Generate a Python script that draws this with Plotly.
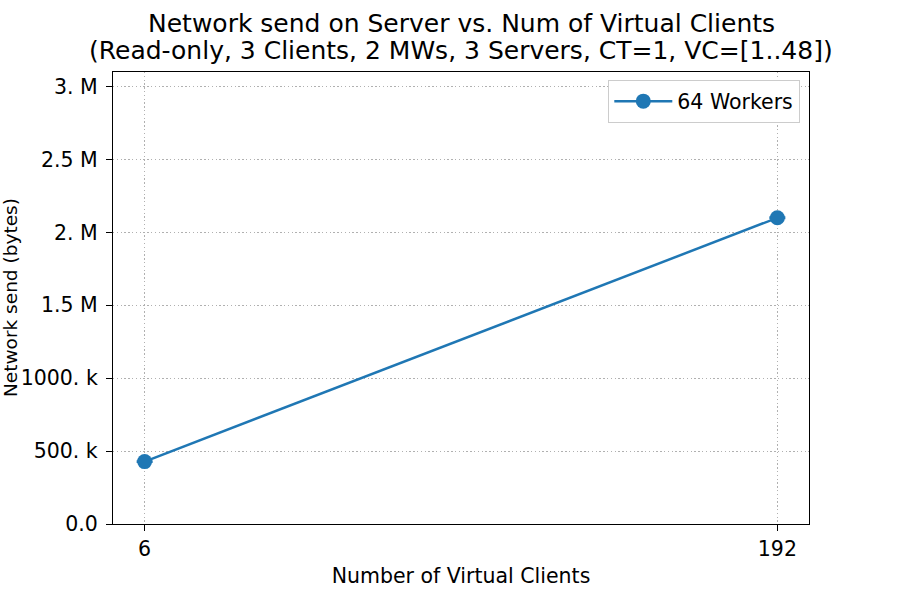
import plotly.graph_objects as go

virtual_clients = [6, 192]
network_send = [428000, 2100000]
network_send_err = [3000, 3000]
series_name = "64 Workers"
y_tick_vals = [0, 500000, 1000000, 1500000, 2000000, 2500000, 3000000]
y_tick_text = ["0.0", "500. k", "1000. k", "1.5 M", "2. M", "2.5 M", "3. M"]
x_tick_vals = [6, 192]
title_line1 = "Network send on Server vs. Num of Virtual Clients"
title_line2 = "(Read-only, 3 Clients, 2 MWs, 3 Servers, CT=1, VC=[1..48])"

color = "#1f77b4"
font = "DejaVu Sans"
fs = 20.5

fig = go.Figure()
fig.add_trace(go.Scatter(
    x=virtual_clients, y=network_send, mode="lines+markers", name=series_name,
    line=dict(color=color, width=2.5), marker=dict(color=color, size=15),
    error_y=dict(type="data", array=network_send_err, color=color, thickness=2, width=8),
))

axis_common = dict(
    showline=True, mirror=True, linecolor="black", linewidth=1.3,
    ticks="outside", ticklen=6, tickcolor="black", tickwidth=1.3,
    showgrid=True, gridcolor="#b0b0b0", griddash="1.3px,2.5px", gridwidth=1.3,
    zeroline=False, tickfont=dict(family=font, size=fs, color="black"),
)

fig.update_layout(
    width=900, height=600,
    margin=dict(l=113, r=91, t=72, b=76),
    paper_bgcolor="white", plot_bgcolor="white",
    font=dict(family=font, color="black"),
    showlegend=True,
    legend=dict(x=(800 - 113) / 696, y=(524 - 80) / 452, xanchor="right", yanchor="top",
                bordercolor="#cccccc", borderwidth=1.3, bgcolor="white",
                itemwidth=58, font=dict(family=font, size=fs)),
    xaxis=dict(range=[-3.3, 201.3], tickvals=x_tick_vals, ticklabelstandoff=0,
               title=dict(text="Number of Virtual Clients", font=dict(family=font, size=fs), standoff=8),
               **axis_common),
    yaxis=dict(range=[0, 3.1e6], tickvals=y_tick_vals, ticktext=y_tick_text, ticklabelstandoff=4,
               **axis_common),
)

fig.add_annotation(
    text=title_line1, xref="paper", yref="paper", x=(461 - 113) / 696, y=(524 - 23) / 452,
    xanchor="center", yanchor="middle", showarrow=False, font=dict(family=font, size=25),
)
fig.add_annotation(
    text=title_line2, xref="paper", yref="paper", x=(461 - 113) / 696, y=(524 - 50) / 452,
    xanchor="center", yanchor="middle", showarrow=False, font=dict(family=font, size=25),
)
fig.add_annotation(
    text="Network send (bytes)", textangle=-90,
    xref="paper", yref="paper", x=(10 - 113) / 696, y=0.5, xanchor="center", yanchor="middle",
    showarrow=False, font=dict(family=font, size=18.5),
)

fig.write_html("out.html")
